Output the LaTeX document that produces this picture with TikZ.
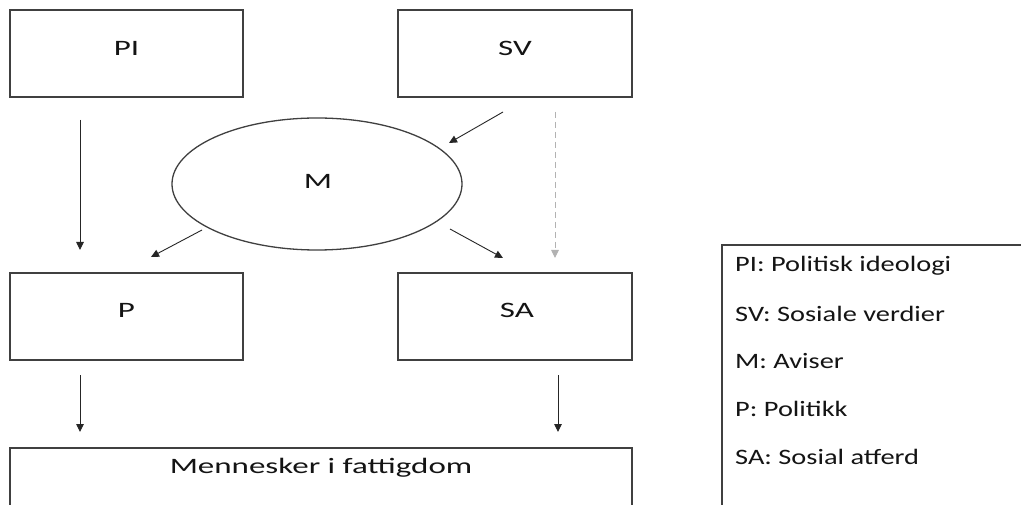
\documentclass[tikz,border=0pt]{standalone}
\usepackage{fontspec}
\setmainfont{Carlito}
\usetikzlibrary{shapes.geometric,arrows.meta}
\newcommand{\wbox}[1]{\scalebox{1.5}[1]{#1}}
\newcommand{\wleg}[1]{\scalebox{1.29}[1]{#1}}
\begin{document}
\begin{tikzpicture}[x=1pt,y=-1pt,
  box/.style={draw=black!75,line width=1.4pt,fill=none},
  lbl/.style={font=\fontsize{22}{26}\selectfont,text=black!92,inner sep=0pt},
  leg/.style={font=\fontsize{22}{26}\selectfont,text=black!92,anchor=west,inner sep=0pt},
  arr/.style={draw=black!85,line width=0.9pt,-{Triangle[width=7.5pt,length=8pt]}},
  darr/.style={draw=black!30,line width=0.9pt,dashed,dash pattern=on 6pt off 4pt,-{Triangle[width=7.5pt,length=8pt]}}]
\useasboundingbox (0,0) rectangle (1021,505);
\clip (0,0) rectangle (1021,505);
\fill[white] (0,0) rectangle (1021,505);
% boxes
\draw[box] (10,10) rectangle (243,97);
\node[lbl] (PI) at (126.5,48) {\wbox{PI}};
\draw[box] (398,10) rectangle (632,97);
\node[lbl] (SV) at (515,48) {\wbox{SV}};
\draw[box] (10,273) rectangle (243,360);
\node[lbl] (P) at (126.5,310) {\wbox{P}};
\draw[box] (398,273) rectangle (632,360);
\node[lbl] (SA) at (517,310) {\wbox{SA}};
\draw[box] (10,448) rectangle (632,520);
\node[lbl] (MF) at (321,468) {\wbox{Mennesker i fattigdom}};
\node[ellipse,draw=black!75,line width=1.3pt,minimum width=290pt,minimum height=132pt,inner sep=0pt] (Mell) at (317,184) {};
\node[lbl] (M) at (318,181) {\wbox{M}};
% legend
\draw[box] (722,245) rectangle (1040,530);
\node[leg] (L1) at (735,266) {\wleg{PI: Politisk ideologi}};
\node[leg] (L2) at (735,314) {\wleg{SV: Sosiale verdier}};
\node[leg] (L3) at (735,361) {\wleg{M: Aviser}};
\node[leg] (L4) at (735,409) {\wleg{P: Politikk}};
\node[leg] (L5) at (735,457) {\wleg{SA: Sosial atferd}};
% arrow endpoints
\coordinate (a1s) at (80,120); \coordinate (a1e) at (80,250);
\coordinate (a2s) at (503,112); \coordinate (a2e) at (449,143);
\coordinate (a3s) at (202,230); \coordinate (a3e) at (151,257);
\coordinate (a4s) at (450,229); \coordinate (a4e) at (503,258);
\coordinate (a5s) at (555,112); \coordinate (a5e) at (555,258);
\coordinate (a6s) at (80,375); \coordinate (a6e) at (80,432);
\coordinate (a7s) at (558,375); \coordinate (a7e) at (558,432);
\draw[arr] (a1s) -- (a1e);
\draw[arr] (a2s) -- (a2e);
\draw[arr] (a3s) -- (a3e);
\draw[arr] (a4s) -- (a4e);
\draw[darr] (a5s) -- (a5e);
\draw[arr] (a6s) -- (a6e);
\draw[arr] (a7s) -- (a7e);
\end{tikzpicture}
\end{document}
